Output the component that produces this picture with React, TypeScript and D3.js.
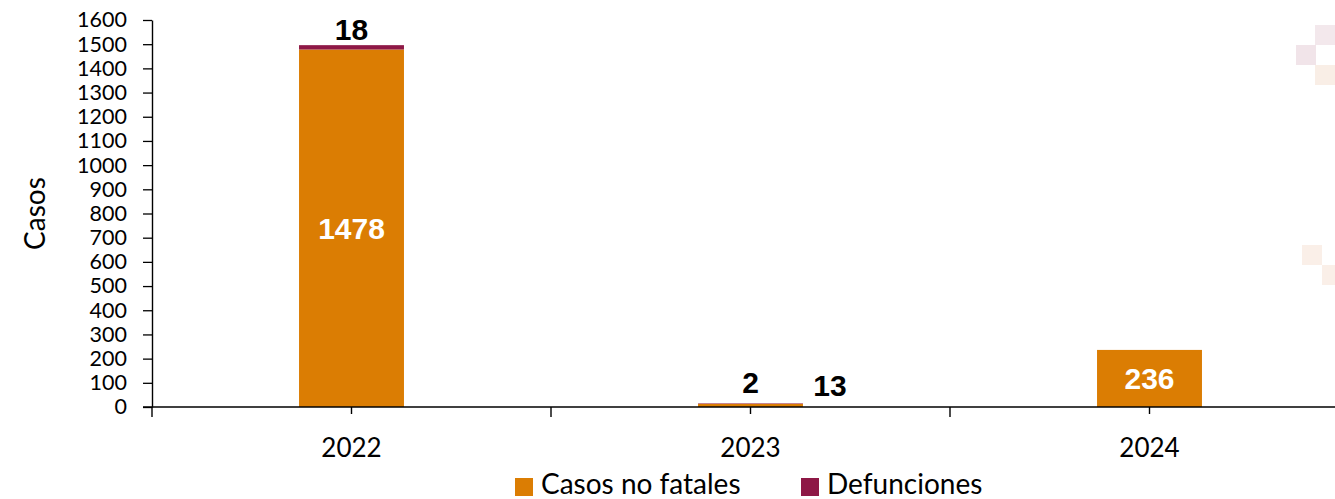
import React, { useRef, useEffect } from 'react';
import * as d3 from 'd3';

const years = ['2022', '2023', '2024'];
const casosNoFatales = [1478, 13, 236];
const defunciones = [18, 2, 0];
const yTicks = [0, 100, 200, 300, 400, 500, 600, 700, 800, 900, 1000, 1100, 1200, 1300, 1400, 1500, 1600];
const seriesNames = ['Casos no fatales', 'Defunciones'];
const colors = ['#DB7D03', '#8E1846'];

export default function App() {
  const svgRef = useRef<SVGSVGElement>(null);

  useEffect(() => {
    const width = 1335;
    const height = 499;
    const marginLeft = 152;
    const marginTop = 20;
    const bottom = 407;
    const step = 399;
    const font = 'Lato, "Open Sans", sans-serif';

    const svg = d3.select(svgRef.current);
    svg.selectAll('*').remove();
    svg.attr('width', width).attr('height', height);

    // faint decorative squares (background watermark)
    const deco = [
      [1296, 45, '#f1e4e9'], [1315, 25, '#f3e8ec'], [1315, 65, '#f9eee6'],
      [1302, 245, '#faefe8'], [1322, 265, '#faefe8'],
    ] as [number, number, string][];
    svg.append('g').selectAll('rect').data(deco).join('rect')
      .attr('x', d => d[0]).attr('y', d => d[1])
      .attr('width', 20).attr('height', 20).attr('fill', d => d[2]);

    const x = d3.scaleBand()
      .domain(years)
      .range([marginLeft, marginLeft + step * years.length])
      .paddingInner(0.737)
      .paddingOuter(0.3685);

    const y = d3.scaleLinear().domain([0, 1600]).range([bottom, marginTop]);

    const stacked = d3.stack<number>()
      .keys(['0', '1'])
      .value((i, k) => (k === '0' ? casosNoFatales[i] : defunciones[i]))(years.map((_, i) => i));

    stacked.forEach((layer, li) => {
      svg.append('g').selectAll('rect').data(layer).join('rect')
        .attr('x', d => x(years[d.data])!)
        .attr('width', x.bandwidth())
        .attr('y', d => y(d[1]))
        .attr('height', d => Math.max(0, y(d[0]) - y(d[1])))
        .attr('fill', colors[li]);
    });

    // y axis
    const yAxis = svg.append('g')
      .attr('transform', `translate(${marginLeft},0)`)
      .call(d3.axisLeft(y).tickValues(yTicks).tickFormat(d3.format('d')).tickSize(9).tickSizeOuter(0).tickPadding(16));
    yAxis.select('.domain').attr('stroke', '#000').attr('stroke-width', 1.4);
    yAxis.selectAll('.tick line').attr('stroke', '#000').attr('stroke-width', 1.3);
    yAxis.selectAll('.tick text')
      .attr('font-family', font)
      .attr('font-size', 21.5)
      .attr('fill', '#000');

    // x axis
    const xg = svg.append('g');
    xg.append('line')
      .attr('x1', marginLeft - 9).attr('x2', width)
      .attr('y1', bottom).attr('y2', bottom)
      .attr('stroke', '#000').attr('stroke-width', 1.5);
    const bounds = years.map((_, i) => marginLeft + step * i);
    xg.selectAll('line.tk').data(bounds).join('line')
      .attr('class', 'tk')
      .attr('x1', d => d).attr('x2', d => d)
      .attr('y1', bottom).attr('y2', bottom + 10)
      .attr('stroke', '#000').attr('stroke-width', 1.4);
    xg.selectAll('line.ctk').data(years).join('line')
      .attr('class', 'ctk')
      .attr('x1', d => x(d)! + x.bandwidth() / 2).attr('x2', d => x(d)! + x.bandwidth() / 2)
      .attr('y1', bottom).attr('y2', bottom + 7)
      .attr('stroke', '#000').attr('stroke-width', 1.4);
    xg.selectAll('text').data(years).join('text')
      .attr('x', d => x(d)! + x.bandwidth() / 2)
      .attr('y', 457)
      .attr('text-anchor', 'middle')
      .attr('font-family', font)
      .attr('font-size', 26)
      .text(d => d);

    // y title
    svg.append('text')
      .attr('transform', `translate(45,${(bottom + marginTop) / 2}) rotate(-90)`)
      .attr('text-anchor', 'middle')
      .attr('font-family', font)
      .attr('font-size', 28)
      .text('Casos');

    // data labels
    const lbl = svg.append('g')
      .attr('font-family', '"Liberation Sans", Arial, sans-serif')
      .attr('font-weight', 'bold')
      .attr('font-size', 30)
      .attr('text-anchor', 'middle');
    const cx = (i: number) => x(years[i])! + x.bandwidth() / 2;
    // 2022
    lbl.append('text').attr('x', cx(0)).attr('y', y(casosNoFatales[0] / 2) + 11)
      .attr('fill', '#fff').text(casosNoFatales[0]);
    lbl.append('text').attr('x', cx(0)).attr('y', y(casosNoFatales[0] + defunciones[0]) - 5)
      .attr('fill', '#000').text(defunciones[0]);
    // 2023
    lbl.append('text').attr('x', cx(1)).attr('y', y(casosNoFatales[1] + defunciones[1]) - 10)
      .attr('fill', '#000').text(defunciones[1]);
    lbl.append('text').attr('x', cx(1) + x.bandwidth() / 2 + 27).attr('y', y(casosNoFatales[1]) - 8)
      .attr('fill', '#000').text(casosNoFatales[1]);
    // 2024
    lbl.append('text').attr('x', cx(2)).attr('y', y(casosNoFatales[2] / 2) + 11)
      .attr('fill', '#fff').text(casosNoFatales[2]);

    // legend
    const legX = [515, 801];
    const leg = svg.append('g');
    seriesNames.forEach((n, i) => {
      leg.append('rect').attr('x', legX[i]).attr('y', 478).attr('width', 18).attr('height', 18).attr('fill', colors[i]);
      leg.append('text').attr('x', legX[i] + 26).attr('y', 494)
        .attr('font-family', font)
        .attr('font-size', 28)
        .text(n);
    });
  }, []);

  return (
    <div style={{ position: 'absolute', left: 0, top: 0 }}>
      <svg ref={svgRef} style={{ display: 'block' }}></svg>
    </div>
  );
}
